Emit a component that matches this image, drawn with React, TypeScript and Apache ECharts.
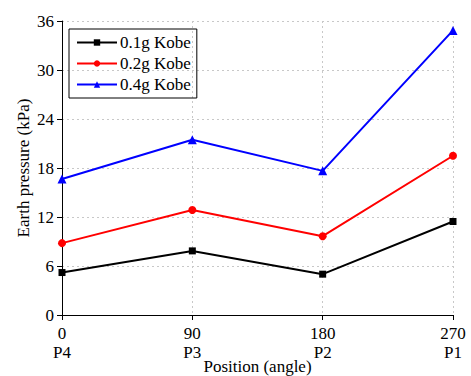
import React, { useEffect, useRef } from "react";
import * as echarts from "echarts";

const angles = [0, 90, 180, 270];
const positions = ["P4", "P3", "P2", "P1"];
const seriesNames = ["0.1g Kobe", "0.2g Kobe", "0.4g Kobe"];
const kobe01 = [5.2, 7.85, 5.0, 11.45];
const kobe02 = [8.8, 12.85, 9.65, 19.5];
const kobe04 = [16.65, 21.45, 17.65, 34.85];
const colors = ["#000000", "#ff0000", "#0000ff"];
const symbols = ["rect", "circle", "triangle"];
const yTicks = { min: 0, max: 36, interval: 6 };

const FONT = "Liberation Serif";

export default function App() {
  const ref = useRef<HTMLDivElement>(null);
  useEffect(() => {
    if (!ref.current) return;
    const chart = echarts.init(ref.current, undefined, { renderer: "svg" });
    const data = [kobe01, kobe02, kobe04];
    const txt = { fontFamily: FONT, fontSize: 17, color: "#000" };
    chart.setOption({
      animation: false,
      textStyle: { fontFamily: FONT, color: "#000" },
      grid: { left: 62, right: 18, top: 21, bottom: 61, containLabel: false, outerBoundsMode: "none" },
      legend: {
        left: 69,
        top: 29,
        orient: "vertical",
        itemWidth: 40,
        itemHeight: 8,
        itemGap: 4,
        padding: [5, 6, 5, 7],
        borderColor: "#000",
        borderWidth: 1,
        textStyle: { ...txt, padding: [0, 0, 0, -2] },
        data: seriesNames,
      },
      xAxis: {
        type: "value",
        min: 0,
        max: 270,
        interval: 90,
        name: "Position (angle)",
        nameLocation: "middle",
        nameGap: 43,
        nameMoveOverlap: false,
        nameTextStyle: { ...txt },
        axisLine: { show: true, onZero: false, lineStyle: { color: "#000", width: 1 } },
        axisTick: { show: true, length: 5, lineStyle: { color: "#000" } },
        axisLabel: {
          ...txt,
          margin: 9,
          lineHeight: 19,
          hideOverlap: false,
          formatter: (v: number) => {
            const i = angles.indexOf(v);
            return i >= 0 ? `${v}\n${positions[i]}` : "";
          },
        },
        splitLine: { show: true, lineStyle: { color: "#c8c8c8", type: [2, 3], width: 1 } },
      },
      yAxis: {
        type: "value",
        min: yTicks.min,
        max: yTicks.max,
        interval: yTicks.interval,
        name: "Earth pressure (kPa)",
        nameLocation: "middle",
        nameGap: 30,
        nameMoveOverlap: false,
        nameTextStyle: { ...txt },
        axisLine: { show: true, lineStyle: { color: "#000", width: 1 } },
        axisTick: { show: true, length: 5, lineStyle: { color: "#000" } },
        axisLabel: { ...txt, margin: 8 },
        splitLine: { show: true, lineStyle: { color: "#c8c8c8", type: [2, 3], width: 1 } },
      },
      series: seriesNames.map((name, s) => ({
        name,
        type: "line",
        data: angles.map((a, i) => [a, data[s][i]]),
        symbol: symbols[s],
        symbolSize: s === 0 ? 7 : s === 1 ? 8 : 9,
        showSymbol: true,
        lineStyle: { color: colors[s], width: 2 },
        itemStyle: { color: colors[s] },
        clip: false,
      })),
    });
    return () => chart.dispose();
  }, []);
  return <div ref={ref} style={{ width: 471, height: 376, position: "absolute", left: 0, top: 0 }} />;
}
